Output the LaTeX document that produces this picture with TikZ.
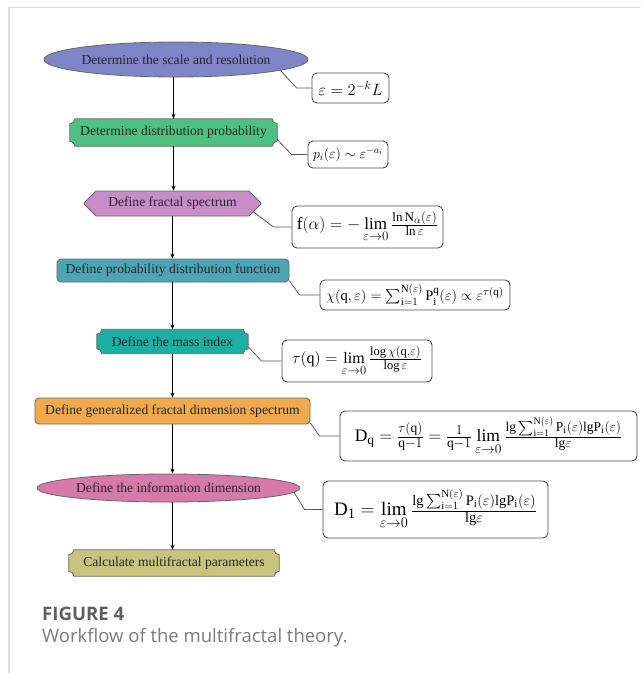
\RequirePackage{fix-cm}
\documentclass[tikz,border=0pt]{standalone}
\usepackage{fontspec}
\setmainfont{Liberation Serif}
\newfontfamily\capfont{Open Sans}
\usepackage{amsmath}
\DeclareMathSizes{17}{17}{13}{10}
\DeclareMathSizes{16}{16}{12.5}{9.5}
\DeclareMathSizes{17.5}{17.5}{13.5}{10}
\DeclareMathSizes{19}{19}{14.5}{11}
\DeclareMathSizes{14.5}{14.5}{11}{8}
\usetikzlibrary{shapes.geometric,shapes.misc,arrows.meta,calc,backgrounds}
\definecolor{cEa}{RGB}{126,134,200}
\definecolor{cGr}{RGB}{78,192,130}
\definecolor{cPk}{RGB}{200,140,200}
\definecolor{cTl}{RGB}{76,165,182}
\definecolor{cMs}{RGB}{28,176,164}
\definecolor{cOr}{RGB}{240,170,76}
\definecolor{cEb}{RGB}{214,122,170}
\definecolor{cKh}{RGB}{200,196,126}
\definecolor{framec}{RGB}{222,222,222}
\definecolor{capa}{RGB}{96,96,96}
\definecolor{capb}{RGB}{122,122,122}
\newcommand\concaveshape[3]{%
  \path[fill=#2, draw=black!60, line width=0.8pt]
    ([xshift=#3]#1.north west) -- ([xshift=-#3]#1.north east)
    arc[start angle=180, end angle=270, radius=#3]
    -- ([yshift=#3]#1.south east)
    arc[start angle=90, end angle=180, radius=#3]
    -- ([xshift=#3]#1.south west)
    arc[start angle=0, end angle=90, radius=#3]
    -- ([yshift=-#3]#1.north west)
    arc[start angle=270, end angle=360, radius=#3]
    -- cycle;}
\begin{document}
\begin{tikzpicture}[x=1pt,y=-1pt,
  lbl/.style={font=\fontsize{13.6}{16}\selectfont, text=black!85},
  ell/.style={ellipse, draw=black!60, line width=0.8pt, inner xsep=-40pt, inner ysep=0pt, lbl},
  cbox/.style={rectangle, draw=none, inner sep=0pt, lbl},
  chamf/.style={chamfered rectangle, chamfered rectangle xsep=6pt, chamfered rectangle ysep=6pt, draw=black!60, line width=0.8pt, inner sep=0pt, lbl},
  rbox/.style={rectangle, rounded corners=4pt, draw=black!60, line width=0.8pt, inner sep=0pt, lbl},
  fbox/.style={rectangle, rounded corners=5pt, draw=black!70, line width=0.9pt, fill=white, inner sep=0pt},
  conn/.style={draw=black!65, line width=0.8pt},
  arr/.style={-{Stealth[length=5pt,width=4pt]}, line width=0.8pt, black}]
\useasboundingbox (0,0) rectangle (641,673);
\draw[framec, line width=1.5pt] (9,673) -- (9,7.5) -- (641,7.5);

% main chain
\node[ell, fill=cEa, minimum width=264pt, minimum height=35pt] (e1) at (176,59.5) {Determine the scale and resolution};
\node[cbox, minimum width=207pt, minimum height=27pt] (g) at (173.5,132.5) {Determine distribution probability};
\node[chamf, fill=cPk, minimum width=177pt, minimum height=25pt] (p) at (172.5,203.5) {Define fractal spectrum};
\node[rbox, fill=cTl, minimum width=232pt, minimum height=23pt] (t) at (173,270.5) {Define probability distribution function};
\node[cbox, minimum width=151pt, minimum height=24pt] (m) at (172.5,341.5) {Define the mass index};
\node[rbox, fill=cOr, minimum width=275pt, minimum height=26pt] (o) at (172.5,411) {Define generalized fractal dimension spectrum};
\node[ell, fill=cEb, minimum width=263pt, minimum height=28pt] (e2) at (168.5,488) {Define the information dimension};
\node[cbox, minimum width=210pt, minimum height=26pt] (k) at (174,563) {Calculate multifractal parameters};

\begin{scope}[on background layer]
  \concaveshape{g}{cGr}{5pt}
  \concaveshape{m}{cMs}{5pt}
  \concaveshape{k}{cKh}{5pt}
\end{scope}

% formula boxes
\node[fbox, minimum width=77pt, minimum height=30pt, font=\fontsize{16.5}{19}\selectfont] (b1) at (350.5,88) {$\varepsilon = 2^{-k}L$};
\node[fbox, minimum width=80pt, minimum height=27pt, font=\fontsize{14}{17}\selectfont] (b2) at (348,154.5) {$p_i(\varepsilon) \sim \varepsilon^{-a_i}$};
\node[fbox, minimum width=151pt, minimum height=42pt, font=\fontsize{17}{20}\selectfont] (b3) at (367.5,227) {$\mathrm{f}(\alpha) = -\lim\limits_{\varepsilon\to0}\frac{\ln \mathrm{N}_\alpha(\varepsilon)}{\ln\varepsilon}$};
\node[fbox, minimum width=190pt, minimum height=30pt, font=\fontsize{14.5}{17}\selectfont] (b4) at (415,295) {$\chi(\mathrm{q},\varepsilon) = \sum_{\mathrm{i}=1}^{\mathrm{N}(\varepsilon)} \mathrm{P}_\mathrm{i}^\mathrm{q}(\varepsilon) \propto \varepsilon^{\tau(\mathrm{q})}$};
\node[fbox, minimum width=150pt, minimum height=42pt, font=\fontsize{16}{19}\selectfont] (b5) at (357,361) {$\tau(\mathrm{q}) = \lim\limits_{\varepsilon\to0}\frac{\log\chi(\mathrm{q},\varepsilon)}{\log\varepsilon}$};
\node[fbox, minimum width=297pt, minimum height=50pt, font=\fontsize{17.5}{21}\selectfont] (b6) at (488.5,436) {$\mathrm{D_q} = \frac{\tau(\mathrm{q})}{\mathrm{q}-1} = \frac{1}{\mathrm{q}-1}\lim\limits_{\varepsilon\to0}\frac{\mathrm{lg}\sum_{\mathrm{i}=1}^{\mathrm{N}(\varepsilon)}\mathrm{P_i}(\varepsilon)\mathrm{lgP_i}(\varepsilon)}{\mathrm{lg}\varepsilon}$};
\node[fbox, minimum width=225pt, minimum height=57pt, font=\fontsize{19}{22}\selectfont] (b7) at (435.5,509.5) {$\mathrm{D_1} = \lim\limits_{\varepsilon\to0}\frac{\mathrm{lg}\sum_{\mathrm{i}=1}^{\mathrm{N}(\varepsilon)}\mathrm{P_i}(\varepsilon)\mathrm{lgP_i}(\varepsilon)}{\mathrm{lg}\varepsilon}$};

% connectors
\draw[conn] (e1.-6) -- ($(b1.west)+(-15,0)$) -- (b1.west);
\draw[conn] ([yshift=-7pt]g.east) -- ($(b2.west)+(-16,0)$) -- (b2.west);
\draw[conn] (p.-6) -- ($(b3.west)+(-18,0)$) -- (b3.west);
\draw[conn] (t.-5) -- ($(b4.west)+(-20,0)$) -- (b4.west);
\draw[conn] (m.-4) -- ($(b5.west)+(-20,0)$) -- (b5.west);
\draw[conn] (o.-5) -- ($(b6.west)+(-20,0)$) -- (b6.west);
\draw[conn] (e2.-2.5) -- ($(b7.west)+(-18,0)$) -- (b7.west);

% arrows
\draw[arr] (e1.south -| g.north) -- (g.north);
\draw[arr] (g.south) -- (g.south |- p.north);
\draw[arr] (p.south) -- (p.south |- t.north);
\draw[arr] (t.south -| p.south) -- (m.north);
\draw[arr] (m.south) -- (m.south |- o.north);
\draw[arr] (o.south) -- (o.south |- e2.north);
\draw[arr] (e2.south -| o.south) -- (k.north -| o.south);

% caption
\node[anchor=base west, font=\capfont\bfseries\fontsize{18.6}{22}\selectfont, text=capa, inner sep=0pt] (cap1) at (42,620) {FIGURE 4};
\node[anchor=base west, font=\capfont\fontsize{18.5}{22}\selectfont, text=capb, inner sep=0pt] (cap2) at (42,642) {Workflow of the multifractal theory.};
\end{tikzpicture}
\end{document}
